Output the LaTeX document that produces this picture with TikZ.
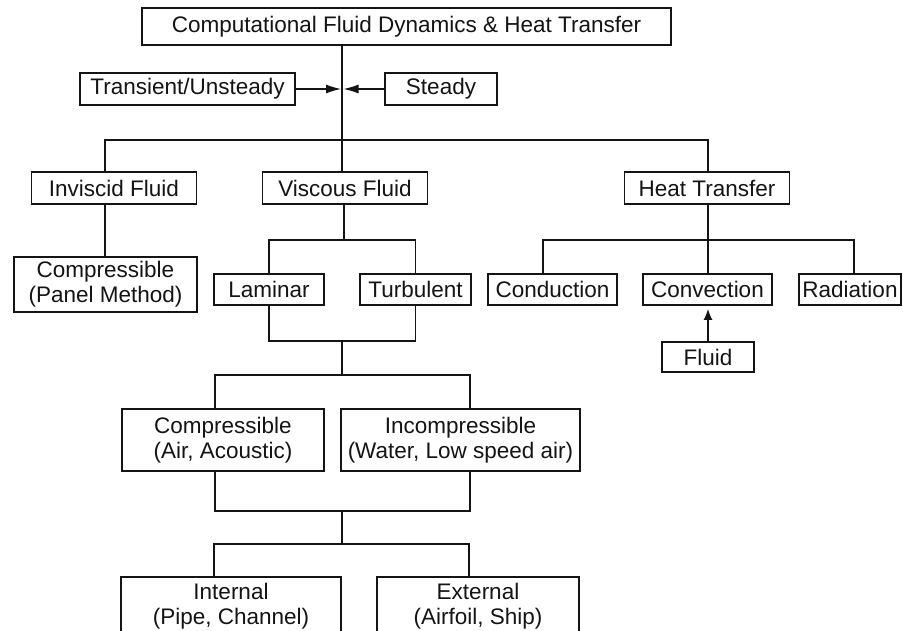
\documentclass[tikz,border=0pt]{standalone}
\usepackage{fontspec}
\setmainfont{Liberation Sans}
\usetikzlibrary{arrows.meta}
\definecolor{ink}{RGB}{20,20,20}
\begin{document}
\begin{tikzpicture}[x=1pt,y=-1pt,
  box/.style={draw=ink, line width=1.8pt, inner sep=0pt, align=center,
    font=\fontsize{22.5}{25}\selectfont, text=ink},
  link/.style={draw=ink, line width=1.2pt},
  arr/.style={link, -{Latex[length=15pt,width=9pt]}},
  arrs/.style={link, -{Latex[length=11pt,width=9pt]}}]
\useasboundingbox[fill=white] (0,0) rectangle (903,631);
\clip (0,0) rectangle (903,631);

% nodes
\node[box, minimum width=529pt, minimum height=37pt] (top) at (406.5,26.5) {Computational Fluid Dynamics \& Heat Transfer};
\node[box, minimum width=215pt, minimum height=32pt] (trans) at (187.5,89) {Transient/Unsteady};
\node[box, minimum width=112pt, minimum height=32pt] (steady) at (441,89) {Steady};
\node[box, minimum width=165pt, minimum height=32pt] (invisc) at (114,188) {Inviscid Fluid};
\node[box, minimum width=165pt, minimum height=32pt] (viscous) at (345,188) {Viscous Fluid};
\node[box, minimum width=165pt, minimum height=32pt] (heat) at (707,188) {Heat Transfer};
\node[box, minimum width=183pt, minimum height=55pt] (compP) at (105.5,284.5) {Compressible\\(Panel Method)};
\node[box, minimum width=110pt, minimum height=31pt] (laminar) at (269,289.5) {Laminar};
\node[box, minimum width=111pt, minimum height=31pt] (turb) at (415.5,289.5) {Turbulent};
\node[box, minimum width=129pt, minimum height=31pt] (cond) at (552.5,289.5) {Conduction};
\node[box, minimum width=129pt, minimum height=31pt] (conv) at (707.5,289.5) {Convection};
\node[box, minimum width=102pt, minimum height=31pt] (rad) at (850,289.5) {Radiation};
\node[box, minimum width=92pt, minimum height=30pt] (fluid) at (708,357) {Fluid};
\node[box, minimum width=202pt, minimum height=62pt] (compA) at (223,440) {Compressible\\(Air, Acoustic)};
\node[box, minimum width=239pt, minimum height=62pt] (incomp) at (460.5,440) {Incompressible\\(Water, Low speed air)};
\node[box, minimum width=220pt, minimum height=58pt] (internal) at (231,606) {Internal\\(Pipe, Channel)};
\node[box, minimum width=202pt, minimum height=58pt] (external) at (478,606) {External\\(Airfoil, Ship)};

% junction coordinates
\coordinate (j0) at (342,140);
\coordinate (bL) at (105,140);
\coordinate (bR) at (708,140);
\coordinate (tL) at (341,89);
\coordinate (tR) at (343.5,89);
\coordinate (vb) at (344,240);
\coordinate (hL) at (543,240);
\coordinate (hR) at (854,240);
\coordinate (lb) at (342,341);
\coordinate (cL) at (215,375);
\coordinate (c0) at (342,375);
\coordinate (cR) at (470,375);
\coordinate (dL) at (215,511);
\coordinate (d0) at (342,511);
\coordinate (dR) at (470,511);
\coordinate (eL) at (214,544);
\coordinate (e0) at (342,544);
\coordinate (eR) at (469,544);
\coordinate (fa) at (708,309);

% connectors
\draw[link] (top.south -| j0) -- (j0);
\draw[arr] (trans.east) -- (tL);
\draw[arr] (steady.west) -- (tR);
\draw[link] (invisc.north -| bL) -- (bL) -- (bR) -- (heat.north -| bR);
\draw[link] (j0) -- (viscous.north -| j0);
\draw[link] (invisc.south -| bL) -- (compP.north -| bL);
\draw[link] (viscous.south -| vb) -- (vb);
\draw[link] (laminar.north) |- (vb) -| (turb.north);
\draw[link] (cond.north -| hL) -- (hL) -- (hR) -- (rad.north -| hR);
\draw[link] (heat.south -| bR) -- (conv.north -| bR);
\draw[arrs] (fluid.north -| fa) -- (fa);
\draw[link] (laminar.south) |- (lb) -| (turb.south);
\draw[link] (lb) -- (c0);
\draw[link] (compA.north -| cL) -- (cL) -- (cR) -- (incomp.north -| cR);
\draw[link] (compA.south -| dL) -- (dL) -- (dR) -- (incomp.south -| dR);
\draw[link] (d0) -- (e0);
\draw[link] (internal.north -| eL) -- (eL) -- (eR) -- (external.north -| eR);
\end{tikzpicture}
\end{document}
